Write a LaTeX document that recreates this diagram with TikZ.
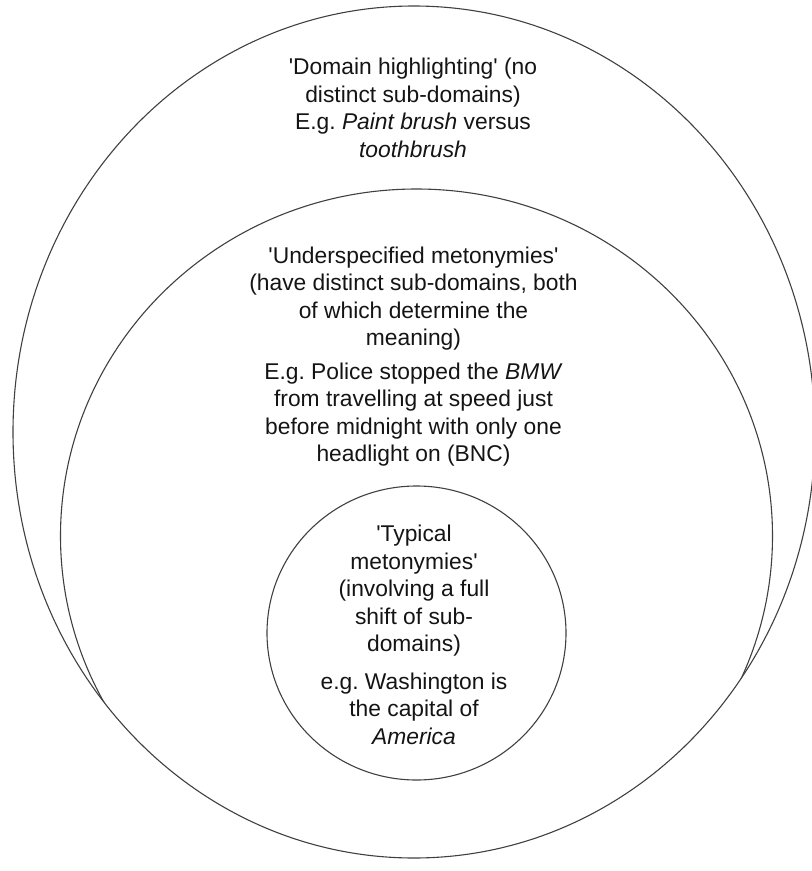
\documentclass[tikz,border=0pt]{standalone}
\usepackage{fontspec}
\newfontfamily\lblfont{Liberation Sans}
\begin{document}
\begin{tikzpicture}[x=1pt,y=-1pt,
  ring/.style={draw=black!75, line width=1.1pt},
  lbl/.style={align=center, inner sep=0pt, anchor=north, text=black!92,
    font=\lblfont\fontsize{22.8}{27.5}\selectfont\frenchspacing}]
\useasboundingbox (0,0) rectangle (812,871);
\clip (0,0) rectangle (812,871);
% outer oval
\draw[ring] (414,432) ellipse [x radius=401, y radius=426];
% middle oval, clipped by the outer one
\begin{scope}
  \clip (414,432) ellipse [x radius=401, y radius=426];
  \draw[ring] (416.5,536) ellipse [x radius=356, y radius=347];
\end{scope}
% inner circle
\draw[ring] (416.5,633) ellipse [x radius=149.5, y radius=147];

\node[lbl] (outerlbl) at (413,58)
  {'Domain highlighting' (no\\
   distinct sub-domains)\\
   E.g. \textit{Paint brush} versus\\
   \textit{toothbrush}};
\node[lbl] (middlelbl) at (413.5,246.5)
  {'Underspecified metonymies'\\
   (have distinct sub-domains, both\\
   of which determine the\\
   meaning)\\[6pt]
   E.g. Police stopped the \textit{BMW}\\
   from travelling at speed just\\
   before midnight with only one\\
   headlight on (BNC)};
\node[lbl] (innerlbl) at (414,525)
  {'Typical\\
   metonymies'\\
   (involving a full\\
   shift of sub-\\
   domains)\\[10pt]
   e.g. Washington is\\
   the capital of\\
   \textit{America}};
\end{tikzpicture}
\end{document}
